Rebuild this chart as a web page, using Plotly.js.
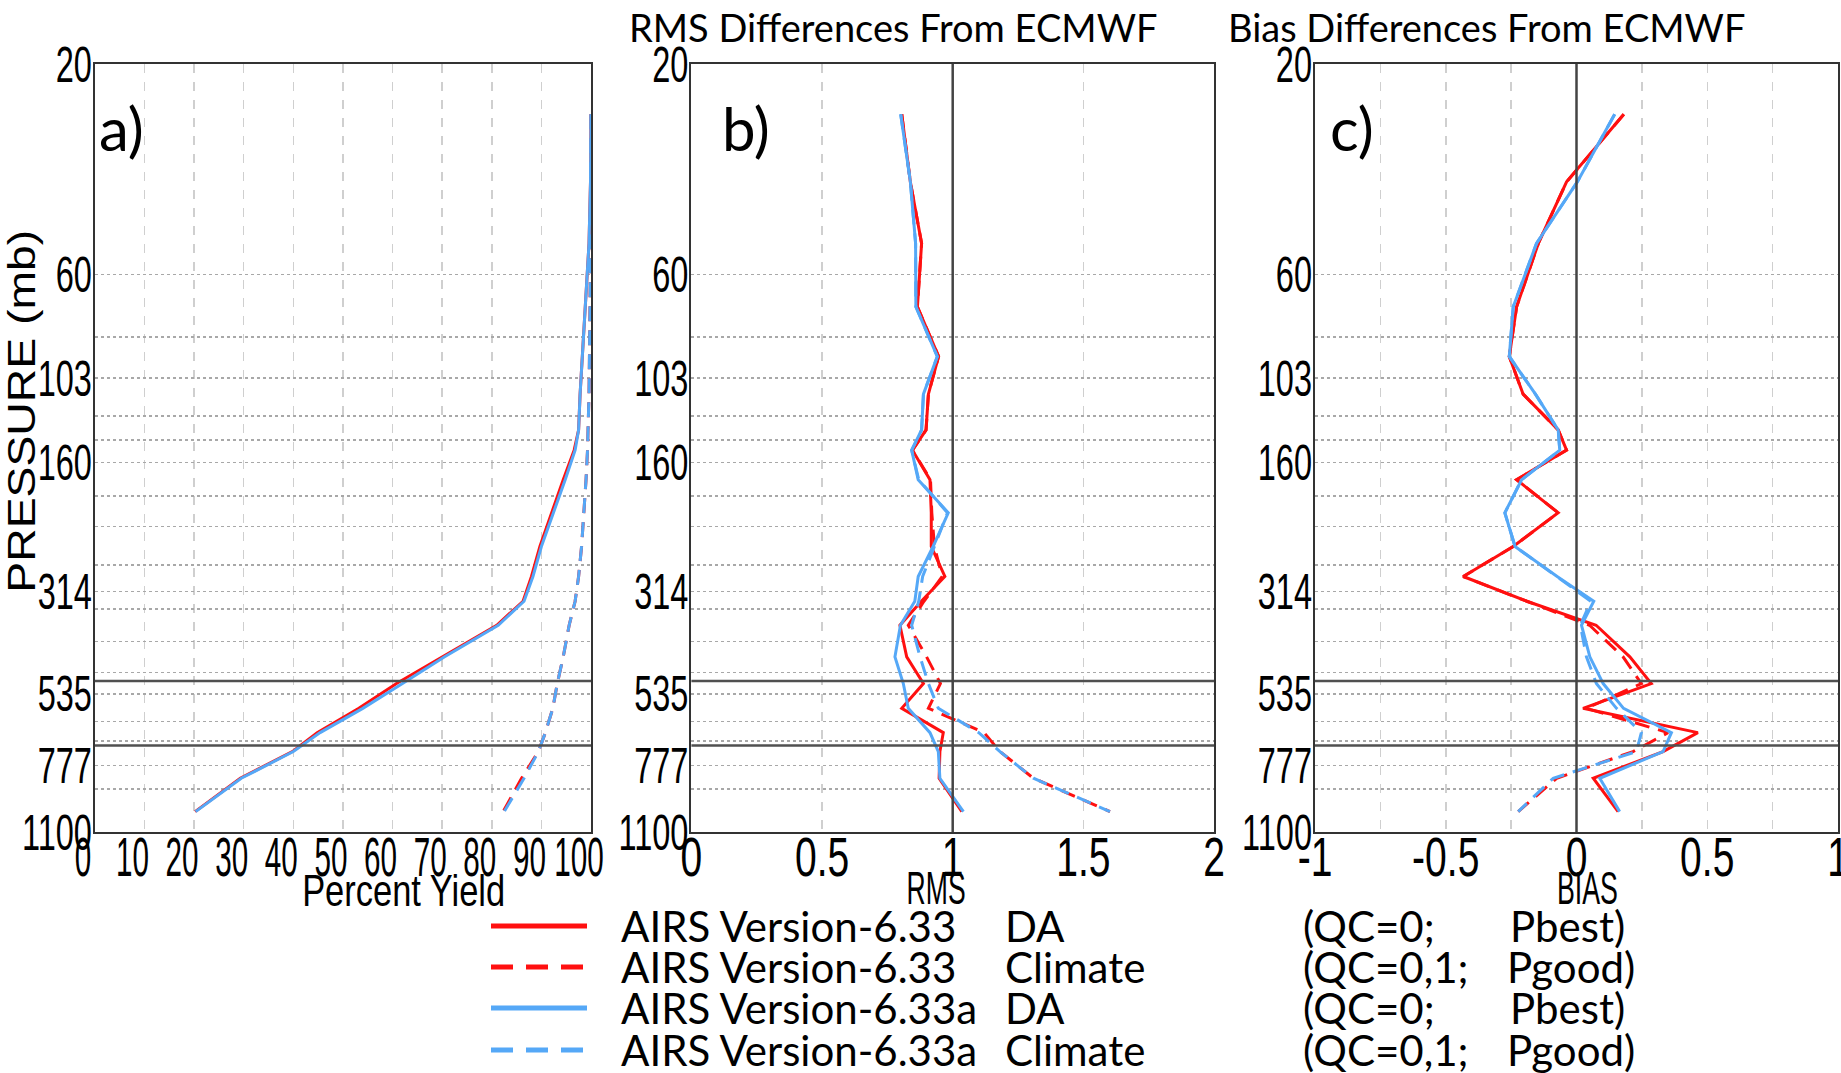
<!DOCTYPE html>
<html>
<head>
<meta charset="utf-8">
<script src="https://cdn.plot.ly/plotly-3.0.1.min.js"></script>
<style>html,body{margin:0;padding:0;background:#fff;}#chart{width:1841px;height:1073px;}</style>
</head>
<body>
<div id="chart"></div>
<script>
// Pressure levels (mb) of the plotted layer points
const pressure = [26, 37, 51, 71, 92, 112, 135, 150, 175, 208, 248, 290, 330, 374, 441, 507, 577, 655, 723, 831, 989];

// a) Percent yield
const yieldV633DA      = [100, 99.9, 99.6, 98.8, 98.2, 97.8, 97.5, 96.6, 94.4, 92.0, 89.7, 88.0, 86.3, 81.0, 70.0, 60.8, 53.2, 44.8, 39.8, 29.3, 20.2];
const yieldV633Clim    = [100, 100, 99.9, 99.8, 99.7, 99.6, 99.4, 99.3, 99.0, 98.6, 98.1, 97.5, 96.8, 95.6, 94.4, 93.2, 92.3, 90.8, 89.4, 86.0, 82.3];
const yieldV633aDA     = [100, 99.9, 99.6, 98.8, 98.2, 97.8, 97.5, 96.8, 94.8, 92.4, 90.0, 88.3, 86.5, 81.3, 70.5, 62.0, 54.0, 45.4, 40.0, 29.5, 20.3];
const yieldV633aClim   = [100, 100, 99.9, 99.8, 99.7, 99.6, 99.4, 99.3, 99.0, 98.6, 98.1, 97.5, 96.8, 95.6, 94.4, 93.2, 92.3, 90.8, 89.4, 86.5, 82.5];

// b) RMS differences from ECMWF
const rmsV633DA    = [0.805, 0.838, 0.881, 0.865, 0.946, 0.907, 0.898, 0.846, 0.913, 0.918, 0.918, 0.970, 0.880, 0.798, 0.824, 0.888, 0.805, 0.964, 0.951, 0.948, 1.035];
const rmsV633Clim  = [0.805, 0.838, 0.881, 0.865, 0.946, 0.907, 0.898, 0.846, 0.915, 0.920, 0.930, 0.960, 0.890, 0.830, 0.900, 0.953, 0.907, 1.120, 1.181, 1.309, 1.602];
const rmsV633aDA   = [0.801, 0.838, 0.858, 0.859, 0.941, 0.888, 0.881, 0.843, 0.868, 0.983, 0.925, 0.868, 0.855, 0.800, 0.779, 0.811, 0.830, 0.913, 0.945, 0.951, 1.041];
const rmsV633aClim = [0.801, 0.838, 0.858, 0.859, 0.941, 0.888, 0.881, 0.843, 0.870, 0.980, 0.930, 0.885, 0.870, 0.843, 0.875, 0.907, 0.945, 1.100, 1.181, 1.309, 1.602];

// c) Bias differences from ECMWF
const biasV633DA    = [0.181, -0.038, -0.146, -0.229, -0.257, -0.204, -0.070, -0.038, -0.229, -0.070, -0.242, -0.433, -0.190, 0.075, 0.204, 0.286, 0.025, 0.464, 0.331, 0.064, 0.159];
const biasV633Clim  = [0.181, -0.038, -0.146, -0.229, -0.257, -0.204, -0.070, -0.038, -0.229, -0.070, -0.242, -0.433, -0.190, 0.050, 0.178, 0.248, 0.038, 0.350, 0.216, -0.076, -0.223];
const biasV633aDA   = [0.146, 0.003, -0.153, -0.242, -0.257, -0.157, -0.070, -0.064, -0.210, -0.274, -0.235, -0.074, 0.066, 0.019, 0.051, 0.102, 0.180, 0.363, 0.331, 0.089, 0.165];
const biasV633aClim = [0.146, 0.003, -0.153, -0.242, -0.257, -0.157, -0.070, -0.064, -0.210, -0.274, -0.235, -0.074, 0.055, 0.015, 0.038, 0.076, 0.153, 0.248, 0.229, -0.089, -0.223];

// Axis ticks
const pressureTickVals = [20, 60, 83.2, 103, 125.6, 142.4, 160, 190.3, 223.4, 272.9, 314, 343.6, 407.5, 478, 535, 617.5, 683.7, 777, 878.6, 1100];
const pressureTickText = ['20', '60', '', '103', '', '', '160', '', '', '', '314', '', '', '', '535', '', '', '777', '', '1100'];
const yieldTickVals = [0, 10, 20, 30, 40, 50, 60, 70, 80, 90, 100];
const yieldTickText = ['0', '10', '20', '30', '40', '50', '60', '70', '80', '90', '100'];
const rmsTickVals = [0, 0.5, 1, 1.5, 2];
const rmsTickText = ['0', '0.5', '1', '1.5', '2'];
const biasTickVals = [-1, -0.75, -0.5, -0.25, 0, 0.25, 0.5, 0.75, 1];
const biasTickText = ['-1', '', '-0.5', '', '0', '', '0.5', '', '1'];
const referenceLevels = [500, 700];

// Legend
const legendVersion = ['AIRS Version-6.33', 'AIRS Version-6.33', 'AIRS Version-6.33a', 'AIRS Version-6.33a'];
const legendMode = ['DA', 'Climate', 'DA', 'Climate'];
const legendQC = ['(QC=0;', '(QC=0,1;', '(QC=0;', '(QC=0,1;'];
const legendQual = ['Pbest)', 'Pgood)', 'Pbest)', 'Pgood)'];

const RED = '#ff1010', BLUE = '#55a8f7';
const seriesStyle = [
  {color: RED, dash: 'solid'},
  {color: RED, dash: '15px,9px'},
  {color: BLUE, dash: 'solid'},
  {color: BLUE, dash: '15px,9px'}
];

const W = 1841, H = 1073;
const px = v => v / W, py = v => 1 - v / H;

const panels = [
  {xa: 'x', ya: 'y', data: [yieldV633DA, yieldV633Clim, yieldV633aDA, yieldV633aClim]},
  {xa: 'x2', ya: 'y2', data: [rmsV633DA, rmsV633Clim, rmsV633aDA, rmsV633aClim]},
  {xa: 'x3', ya: 'y3', data: [biasV633DA, biasV633Clim, biasV633aDA, biasV633aClim]}
];

const traces = [];
panels.forEach(p => {
  p.data.forEach((vals, i) => {
    traces.push({
      type: 'scatter', mode: 'lines', x: vals, y: pressure,
      xaxis: p.xa, yaxis: p.ya, name: legendVersion[i] + ' ' + legendMode[i],
      line: {color: seriesStyle[i].color, width: 3, dash: seriesStyle[i].dash},
      showlegend: false, hoverinfo: 'skip'
    });
  });
});

const tickFontX = {family: 'Liberation Sans, Arial, sans-serif', size: 55, color: '#000'};
const tickFontY = {family: 'Liberation Sans, Arial, sans-serif', size: 50, color: '#000'};
const domY = [1 - 832 / H, 1 - 64 / H];

function yAxis(anchor) {
  return {
    type: 'log', range: [Math.log10(1100), Math.log10(20)], autorange: false,
    domain: domY, anchor: anchor,
    tickmode: 'array', tickvals: pressureTickVals, ticktext: pressureTickText,
    tickfont: tickFontY, ticks: '',
    showgrid: true, gridcolor: '#a8a8a8', griddash: 'dot', gridwidth: 1.5,
    showline: true, mirror: true, linecolor: '#333', linewidth: 2, zeroline: false
  };
}
function xAxis(anchor, dom, range, tv, tt) {
  return {
    domain: dom, range: range, autorange: false, anchor: anchor,
    tickmode: 'array', tickvals: tv, ticktext: tt, tickangle: 0,
    tickfont: tickFontX, ticks: '', ticklabeloverflow: 'allow',
    showgrid: true, gridcolor: '#cfcfcf', griddash: 'dash', gridwidth: 1.5,
    showline: true, mirror: true, linecolor: '#333', linewidth: 2, zeroline: false
  };
}

const shapes = [];
['y', 'y2', 'y3'].forEach((ya, k) => {
  const xa = ['x', 'x2', 'x3'][k];
  referenceLevels.forEach(lv => shapes.push({
    type: 'line', xref: xa + ' domain', x0: 0, x1: 1, yref: ya, y0: lv, y1: lv,
    line: {color: '#505050', width: 2.5}
  }));
});
shapes.push({type: 'line', xref: 'x2', x0: 1, x1: 1, yref: 'y2 domain', y0: 0, y1: 1, line: {color: '#444', width: 2.5}});
shapes.push({type: 'line', xref: 'x3', x0: 0, x1: 0, yref: 'y3 domain', y0: 0, y1: 1, line: {color: '#444', width: 2.5}});

const legendRowsY = [926, 967, 1008, 1050];
const legendDash = ['solid', '22px,13px', 'solid', '22px,13px'];
legendRowsY.forEach((ry, i) => {
  shapes.push({type: 'line', xref: 'paper', yref: 'paper', x0: px(491), x1: px(587), y0: py(ry), y1: py(ry),
    line: {color: seriesStyle[i].color, width: 5, dash: legendDash[i]}});
});

const calib = 'Lato, "Open Sans", sans-serif';
const helv = 'Liberation Sans, Arial, sans-serif';
const annotations = [
  {text: 'a)', x: px(98), y: py(128), xanchor: 'left', yanchor: 'middle', font: {family: calib, size: 60, color: '#000'}},
  {text: 'b)', x: px(721), y: py(128), xanchor: 'left', yanchor: 'middle', font: {family: calib, size: 60, color: '#000'}},
  {text: 'c)', x: px(1329), y: py(128), xanchor: 'left', yanchor: 'middle', font: {family: calib, size: 60, color: '#000'}},
  {text: 'RMS Differences From ECMWF', x: px(628), y: py(27), xanchor: 'left', yanchor: 'middle', font: {family: calib, size: 38, color: '#000'}},
  {text: 'Bias Differences From ECMWF', x: px(1227), y: py(27), xanchor: 'left', yanchor: 'middle', font: {family: calib, size: 38, color: '#000'}},
  {text: 'PRESSURE (mb)', x: px(22), y: py(411), xanchor: 'center', yanchor: 'middle', textangle: -90, font: {family: helv, size: 39, color: '#000'}},
  {text: 'Percent Yield', x: px(403), y: py(890), xanchor: 'center', yanchor: 'middle', font: {family: helv, size: 44, color: '#000'}},
  {text: 'RMS', x: px(936), y: py(888), xanchor: 'center', yanchor: 'middle', font: {family: helv, size: 46, color: '#000'}},
  {text: 'BIAS', x: px(1587), y: py(888), xanchor: 'center', yanchor: 'middle', font: {family: helv, size: 46, color: '#000'}}
];
const qualRight = [1626, 1636, 1626, 1636];
legendRowsY.forEach((ry, i) => {
  const f = {family: calib, size: 42, color: '#000'};
  annotations.push({text: legendVersion[i], x: px(620), y: py(ry), xanchor: 'left', yanchor: 'middle', font: f});
  annotations.push({text: legendMode[i], x: px(1004), y: py(ry), xanchor: 'left', yanchor: 'middle', font: f});
  annotations.push({text: legendQC[i], x: px(1302), y: py(ry), xanchor: 'left', yanchor: 'middle', font: f});
  annotations.push({text: legendQual[i], x: px(qualRight[i]), y: py(ry), xanchor: 'right', yanchor: 'middle', font: f});
});
annotations.forEach(a => { a.xref = 'paper'; a.yref = 'paper'; a.showarrow = false; a.borderpad = 0; });

const layout = {
  width: W, height: H, margin: {l: 0, r: 0, t: 0, b: 0, pad: 0},
  paper_bgcolor: '#fff', plot_bgcolor: '#fff', showlegend: false,
  xaxis: Object.assign(xAxis('y', [94.9 / W, 591 / W], [0, 100], yieldTickVals, yieldTickText), {ticklabelshift: -12}),
  xaxis2: xAxis('y2', [691.4 / W, 1214 / W], [0, 2], rmsTickVals, rmsTickText),
  xaxis3: xAxis('y3', [1315 / W, 1838 / W], [-1, 1], biasTickVals, biasTickText),
  yaxis: yAxis('x'), yaxis2: yAxis('x2'), yaxis3: yAxis('x3'),
  shapes: shapes, annotations: annotations
};

function squeeze(selector, factor) {
  document.querySelectorAll(selector).forEach(t => {
    const w = t.getComputedTextLength();
    if (w > 0) { t.setAttribute('textLength', (w * factor).toFixed(1)); t.setAttribute('lengthAdjust', 'spacingAndGlyphs'); }
  });
}
function shift(selector, dx, dy) {
  document.querySelectorAll(selector).forEach(t => {
    t.setAttribute('transform', 'translate(' + dx + ',' + dy + ') ' + (t.getAttribute('transform') || ''));
  });
}
function fitText(str, target) {
  document.querySelectorAll('.annotation-text').forEach(t => {
    if (t.textContent === str) { t.setAttribute('textLength', target); t.setAttribute('lengthAdjust', 'spacingAndGlyphs'); }
  });
}

Plotly.newPlot('chart', traces, layout, {staticPlot: true, responsive: false}).then(() => {
  squeeze('.xtick text', 0.54);
  squeeze('.x2tick text, .x3tick text', 0.71);
  squeeze('.ytick text, .y2tick text, .y3tick text', 0.65);
  shift('.xtick text, .x2tick text, .x3tick text', 0, -24);
  shift('.ytick text, .y2tick text, .y3tick text', 9, 0);
  fitText('PRESSURE (mb)', 363);
  fitText('Percent Yield', 203);
  fitText('RMS', 59);
  fitText('BIAS', 61);
});
</script>
</body>
</html>
